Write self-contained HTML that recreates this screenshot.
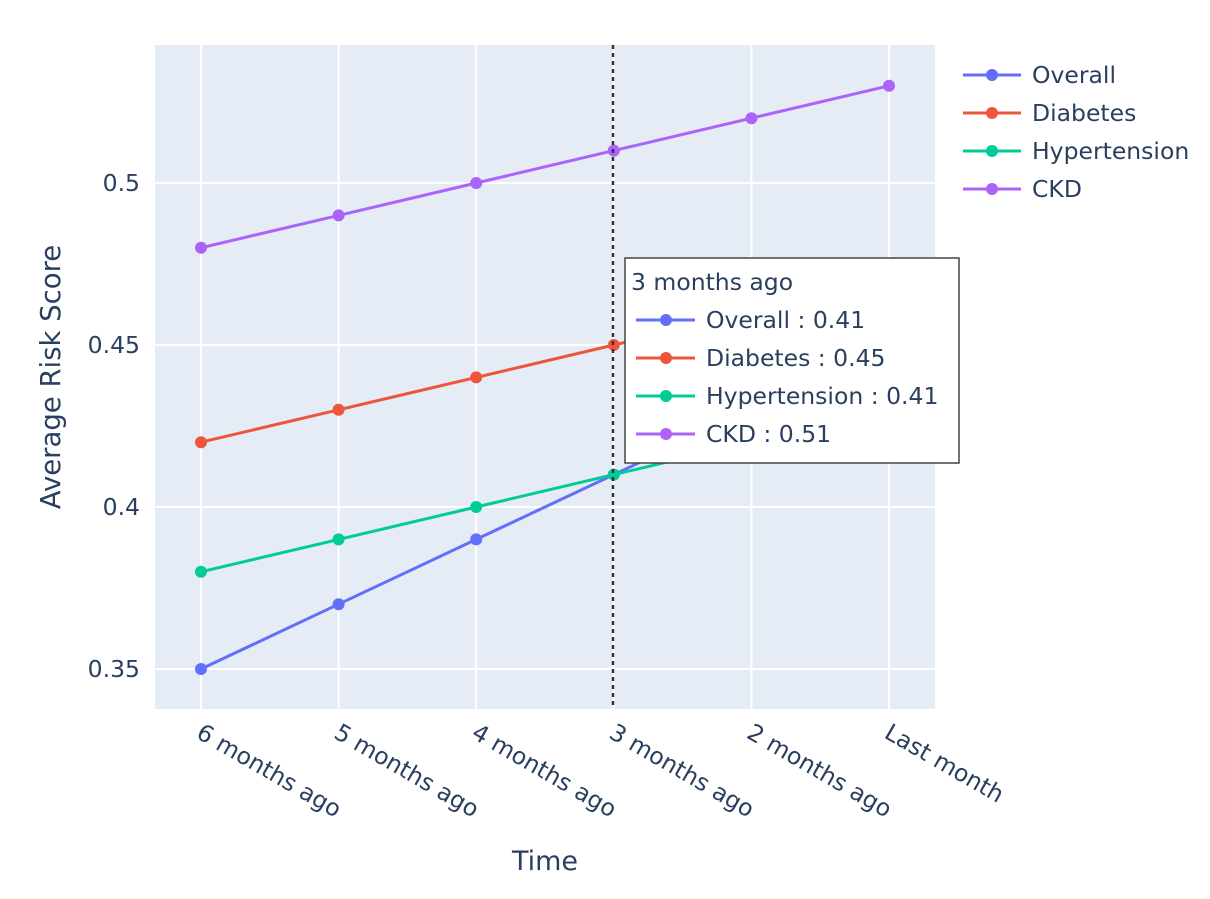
<!DOCTYPE html>
<html><head><meta charset="utf-8"><style>
body{margin:0;background:#fff}
svg{font-family:"DejaVu Sans","Liberation Sans",Arial,sans-serif;fill:#2a3f5f}
</style></head><body>
<svg id="chart" width="1210" height="894">
<rect x="155" y="45" width="780" height="664" fill="#e5ecf6"/>
<g id="grid"></g>
<g id="series"></g>
<line x1="613" x2="613" y1="45" y2="709" stroke="#333" stroke-width="2.5" stroke-dasharray="4,4"/>
<g id="ticks"></g>
<text x="545" y="870" font-size="27" text-anchor="middle">Time</text>
<text transform="translate(60,377) rotate(-90)" font-size="27.5" text-anchor="middle">Average Risk Score</text>
<g id="legend"></g>
<g id="hover"></g>
</svg>
<script>
const categories=["6 months ago","5 months ago","4 months ago","3 months ago","2 months ago","Last month"];
const seriesNames=["Overall","Diabetes","Hypertension","CKD"];
const colors=["#636efa","#EF553B","#00cc96","#ab63fa"];
const overall=[0.35,0.37,0.39,0.41,0.43,0.45];
const diabetes=[0.42,0.43,0.44,0.45,0.46,0.47];
const hypertension=[0.38,0.39,0.40,0.41,0.42,0.43];
const ckd=[0.48,0.49,0.50,0.51,0.52,0.53];
const yTicks=[0.35,0.4,0.45,0.5];
const yTickLabels=["0.35","0.4","0.45","0.5"];
const hoverIndex=3;

const NS="http://www.w3.org/2000/svg";
const X=i=>201+i*137.6;
const Y=v=>669-(v-0.35)*3240;
function mk(t,a,p){const e=document.createElementNS(NS,t);for(const k in a)e.setAttribute(k,a[k]);p.appendChild(e);return e;}
const grid=document.getElementById('grid'),ticks=document.getElementById('ticks');
categories.forEach((c,i)=>{
 const l=mk('line',{x1:X(i),x2:X(i),y1:45,y2:709,stroke:'#fff','stroke-width':2},grid);
 
 
 const t=mk('text',{transform:`translate(${X(i)-6},${737}) rotate(30)`,'font-size':23.5},ticks);
 t.textContent=c;
 
 
});
yTicks.forEach((v,i)=>{
 const l=mk('line',{x1:155,x2:935,y1:Y(v),y2:Y(v),stroke:'#fff','stroke-width':2},grid);
 
 
 const t=mk('text',{x:140,y:Y(v)+8,'font-size':23.5,'text-anchor':'end'},ticks);
 t.textContent=yTickLabels[i];
 
 
});
const data=[overall,diabetes,hypertension,ckd];
const sg=document.getElementById('series');
data.forEach((d,s)=>{
 const g=mk('g',{},sg);
 
 
 const p=mk('polyline',{points:d.map((v,i)=>X(i)+','+Y(v)).join(' '),fill:'none',stroke:colors[s],'stroke-width':3},g);
 
 
 d.forEach((v,i)=>{
  const c=mk('circle',{cx:X(i),cy:Y(v),r:6,fill:colors[s]},g);
  
  
 });
});
const lg=document.getElementById('legend');
seriesNames.forEach((n,s)=>{
 const y=75+s*38;
 const g=mk('g',{},lg);
 
 
 mk('line',{x1:963,x2:1021,y1:y,y2:y,stroke:colors[s],'stroke-width':3},g);
 mk('circle',{cx:992,cy:y,r:6,fill:colors[s]},g);
 const t=mk('text',{x:1032,y:y+8,'font-size':23.5},g);t.textContent=n;
});
const hv=document.getElementById('hover');
const hb=mk('g',{},hv);


mk('rect',{x:625,y:258,width:334,height:205,fill:'#fff',stroke:'#444','stroke-width':1.5},hb);
const ht=mk('text',{x:631,y:290,'font-size':23.5},hb);ht.textContent=categories[hoverIndex];
seriesNames.forEach((n,s)=>{
 const y=320+s*38;
 mk('line',{x1:636,x2:695,y1:y,y2:y,stroke:colors[s],'stroke-width':3},hb);
 mk('circle',{cx:666,cy:y,r:6,fill:colors[s]},hb);
 const t=mk('text',{x:706,y:y+8,'font-size':23.5},hb);
 t.textContent=n+' : '+data[s][hoverIndex].toFixed(2);
});
</script>
</body></html>
